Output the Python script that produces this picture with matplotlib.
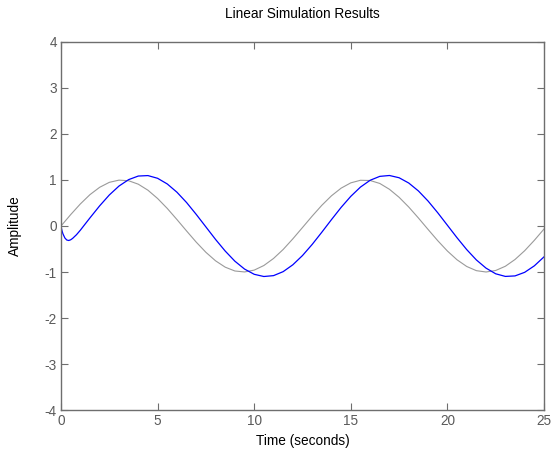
import numpy as np
import matplotlib
matplotlib.use('Agg')
import matplotlib.pyplot as plt

plt.rcParams['font.family'] = ['Liberation Sans', 'DejaVu Sans']
plt.rcParams['axes.unicode_minus'] = False

# input signal (gray), read every 0.5 s
t_in = np.arange(0, 25.01, 0.5)
u_in = [0.0, 0.247, 0.479, 0.682, 0.841, 0.949, 0.997, 0.984, 0.909, 0.778,
        0.598, 0.382, 0.141, -0.108, -0.351, -0.572, -0.757, -0.895, -0.978, -0.999,
        -0.959, -0.859, -0.706, -0.510, -0.279, -0.033, 0.215, 0.450, 0.657, 0.823,
        0.938, 0.994, 0.989, 0.925, 0.798, 0.624, 0.412, 0.174, -0.075, -0.319,
        -0.544, -0.735, -0.880, -0.971, -1.000, -0.967, -0.875, -0.728, -0.537, -0.311,
        -0.066]

# response (blue): finer near the start dip, then every 0.5 s
t_out = [0.0, 0.05, 0.1, 0.2, 0.3, 0.4, 0.5, 0.6, 0.8, 1.0, 1.25, 1.5] + \
        list(np.arange(2.0, 25.01, 0.5))
y_out = [0.0, -0.100, -0.170, -0.260, -0.305, -0.315, -0.300, -0.270, -0.190, -0.092,
         0.043, 0.177,
         0.438, 0.674, 0.868, 1.008, 1.086, 1.096, 1.037, 0.914, 0.735, 0.510,
         0.252, -0.020, -0.292, -0.545, -0.765, -0.936, -1.050, -1.098, -1.079, -0.992,
         -0.843, -0.642, -0.401, -0.135, 0.139, 0.405, 0.645, 0.846, 0.994, 1.079,
         1.098, 1.049, 0.934, 0.762, 0.542, 0.288, 0.016, -0.256, -0.513, -0.738,
         -0.916, -1.039, -1.096, -1.085, -1.007, -0.866, -0.671]

xticks = [0, 5, 10, 15, 20, 25]
yticks = [-4, -3, -2, -1, 0, 1, 2, 3, 4]

fig = plt.figure(figsize=(5.53, 4.5), dpi=100)
ax = fig.add_axes([61/553, 40/450, 483/553, 368/450])

ax.plot(t_in, u_in, color='#9a9a9a', lw=0.8)
ax.plot(t_out, y_out, color='#0000ff', lw=0.9)

ax.set_xlim(0, 25)
ax.set_ylim(-4, 4)
ax.set_xticks(xticks)
ax.set_yticks(yticks)

axcol = '#6e6e6e'
for s in ax.spines.values():
    s.set_color(axcol)
    s.set_linewidth(1.0)
ax.tick_params(direction='in', length=5, width=0.8, colors=axcol, labelsize=9.8,
               top=True, right=True, labelcolor='#5a5a5a', pad=3)

ax.set_title('Linear Simulation Results', fontsize=9.8, pad=17)
ax.set_xlabel('Time (seconds)', fontsize=9.8, labelpad=4)
ax.set_ylabel('Amplitude', fontsize=9.8, labelpad=16)

fig.savefig('out.png', dpi=100)
